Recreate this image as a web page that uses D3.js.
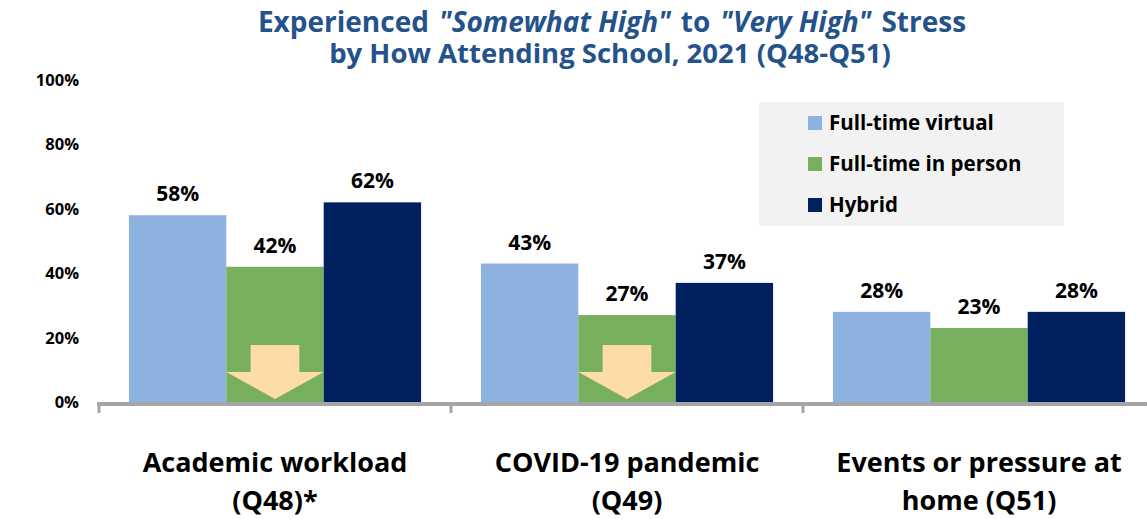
<!DOCTYPE html>
<html>
<head>
<meta charset="utf-8">
<script src="https://cdn.jsdelivr.net/npm/d3@7"></script>
<style>
  body { margin: 0; background: #fff; }
  svg { display: block; font-family: "Open Sans", Lato, sans-serif; font-weight: bold; }
</style>
</head>
<body>
<div id="chart"></div>
<script>
// Stress by how attending school, 2021 (Q48-Q51)
const categories = [
  ["Academic workload", "(Q48)*"],
  ["COVID-19 pandemic", "(Q49)"],
  ["Events or pressure at", "home (Q51)"]
];
const series = ["Full-time virtual", "Full-time in person", "Hybrid"];
const virtualValues = [0.58, 0.43, 0.28];
const inPersonValues = [0.42, 0.27, 0.23];
const hybridValues = [0.62, 0.37, 0.28];
const yTicks = [0, 0.2, 0.4, 0.6, 0.8, 1.0];
// groups where in-person shows a significantly lower share (arrow marker)
const arrowFlags = [true, true, false];
// title line 1 pieces: [text, italic]
const titleParts = [
  ["Experienced", false],
  ["\"Somewhat High\"", true],
  ["to", false],
  ["\"Very High\"", true],
  ["Stress", false]
];

const colors = ["#8DB2DF", "#78AF5F", "#002060"];

const width = 1147, height = 519;
const svg = d3.select("#chart").append("svg")
  .attr("width", width).attr("height", height);

const rows = categories.map((c, i) => ({
  key: c.join(" "),
  label: c,
  values: [virtualValues[i], inPersonValues[i], hybridValues[i]],
  arrow: arrowFlags[i]
}));

const x0 = d3.scaleBand()
  .domain(rows.map(d => d.key))
  .range([99, 1155])
  .paddingInner(0.17)
  .paddingOuter(0.085);
const x1 = d3.scaleBand().domain(series).range([0, x0.bandwidth()]);
const y = d3.scaleLinear().domain([0, 1]).range([402, 80]);

// title
const title = svg.append("text")
  .attr("x", 612).attr("y", 32)
  .attr("text-anchor", "middle")
  .attr("fill", "#24528A")
  .style("font-size", "28px");
title.selectAll("tspan")
  .data(titleParts)
  .join("tspan")
  .attr("dx", (d, i) => (i ? 10 : 0))
  .style("font-style", d => (d[1] ? "italic" : "normal"))
  .text(d => d[0]);
svg.append("text")
  .attr("x", 610).attr("y", 63)
  .attr("text-anchor", "middle")
  .attr("fill", "#24528A")
  .style("font-size", "27.5px")
  .text("by How Attending School, 2021 (Q48-Q51)");

// y tick labels (no axis line)
svg.append("g").selectAll("text")
  .data(yTicks)
  .join("text")
  .attr("x", 79)
  .attr("y", d => y(d))
  .attr("dy", "0.36em")
  .attr("text-anchor", "end")
  .style("font-size", "16.5px")
  .text(d3.format(".0%"));

// bars
const groups = svg.append("g").selectAll("g")
  .data(rows)
  .join("g")
  .attr("transform", d => `translate(${x0(d.key)},0)`);

groups.selectAll("rect")
  .data(d => d.values.map((v, j) => ({ s: series[j], v, j })))
  .join("rect")
  .attr("x", d => x1(d.s))
  .attr("y", d => y(d.v))
  .attr("width", x1.bandwidth())
  .attr("height", d => y(0) - y(d.v))
  .attr("fill", d => colors[d.j]);

groups.selectAll("text.val")
  .data(d => d.values.map((v, j) => ({ s: series[j], v })))
  .join("text")
  .attr("class", "val")
  .attr("x", d => x1(d.s) + x1.bandwidth() / 2)
  .attr("y", d => y(d.v) - 14)
  .attr("text-anchor", "middle")
  .style("font-size", "21px")
  .text(d => d3.format(".0%")(d.v));

// down arrows inside the in-person bar
groups.filter(d => d.arrow).append("path")
  .attr("fill", "#FDDCA9")
  .attr("d", () => {
    const bx = x1(series[1]), bw = x1.bandwidth();
    const base = y(0);
    const cx = bx + bw / 2;
    const sw = bw / 4;
    return `M${cx - sw},${base - 57} L${cx + sw},${base - 57} L${cx + sw},${base - 30}` +
      ` L${bx + bw},${base - 30} L${cx},${base - 3} L${bx},${base - 30} L${cx - sw},${base - 30} Z`;
  });

// x axis line and ticks
const axis = svg.append("g").attr("stroke", "#A6A6A6");
axis.append("line")
  .attr("x1", 97).attr("x2", width)
  .attr("y1", y(0) + 2).attr("y2", y(0) + 2)
  .attr("stroke-width", 4);
const bounds = rows.map(d => x0(d.key) - x0.step() * x0.paddingInner() / 2);
bounds.push(bounds[bounds.length - 1] + x0.step());
axis.selectAll("line.tick")
  .data(bounds)
  .join("line")
  .attr("class", "tick")
  .attr("x1", d => d).attr("x2", d => d)
  .attr("y1", y(0)).attr("y2", y(0) + 11)
  .attr("stroke-width", 3);

// category labels
const cat = svg.append("g").selectAll("text")
  .data(rows)
  .join("text")
  .attr("x", d => x0(d.key) + x0.bandwidth() / 2)
  .attr("text-anchor", "middle")
  .style("font-size", "27px");
cat.append("tspan").attr("y", 472).text(d => d.label[0]);
cat.append("tspan")
  .attr("x", d => x0(d.key) + x0.bandwidth() / 2)
  .attr("y", 510).text(d => d.label[1]);

// legend
const legend = svg.append("g");
legend.append("rect")
  .attr("x", 759).attr("y", 102)
  .attr("width", 305).attr("height", 124)
  .attr("fill", "#F2F2F2");
const items = legend.selectAll("g")
  .data(series)
  .join("g")
  .attr("transform", (d, i) => `translate(808,${123 + i * 41})`);
items.append("rect")
  .attr("y", -7).attr("width", 14).attr("height", 14)
  .attr("fill", (d, i) => colors[i]);
items.append("text")
  .attr("x", 21).attr("dy", "0.36em")
  .style("font-size", "20.5px")
  .text(d => d);
</script>
</body>
</html>
